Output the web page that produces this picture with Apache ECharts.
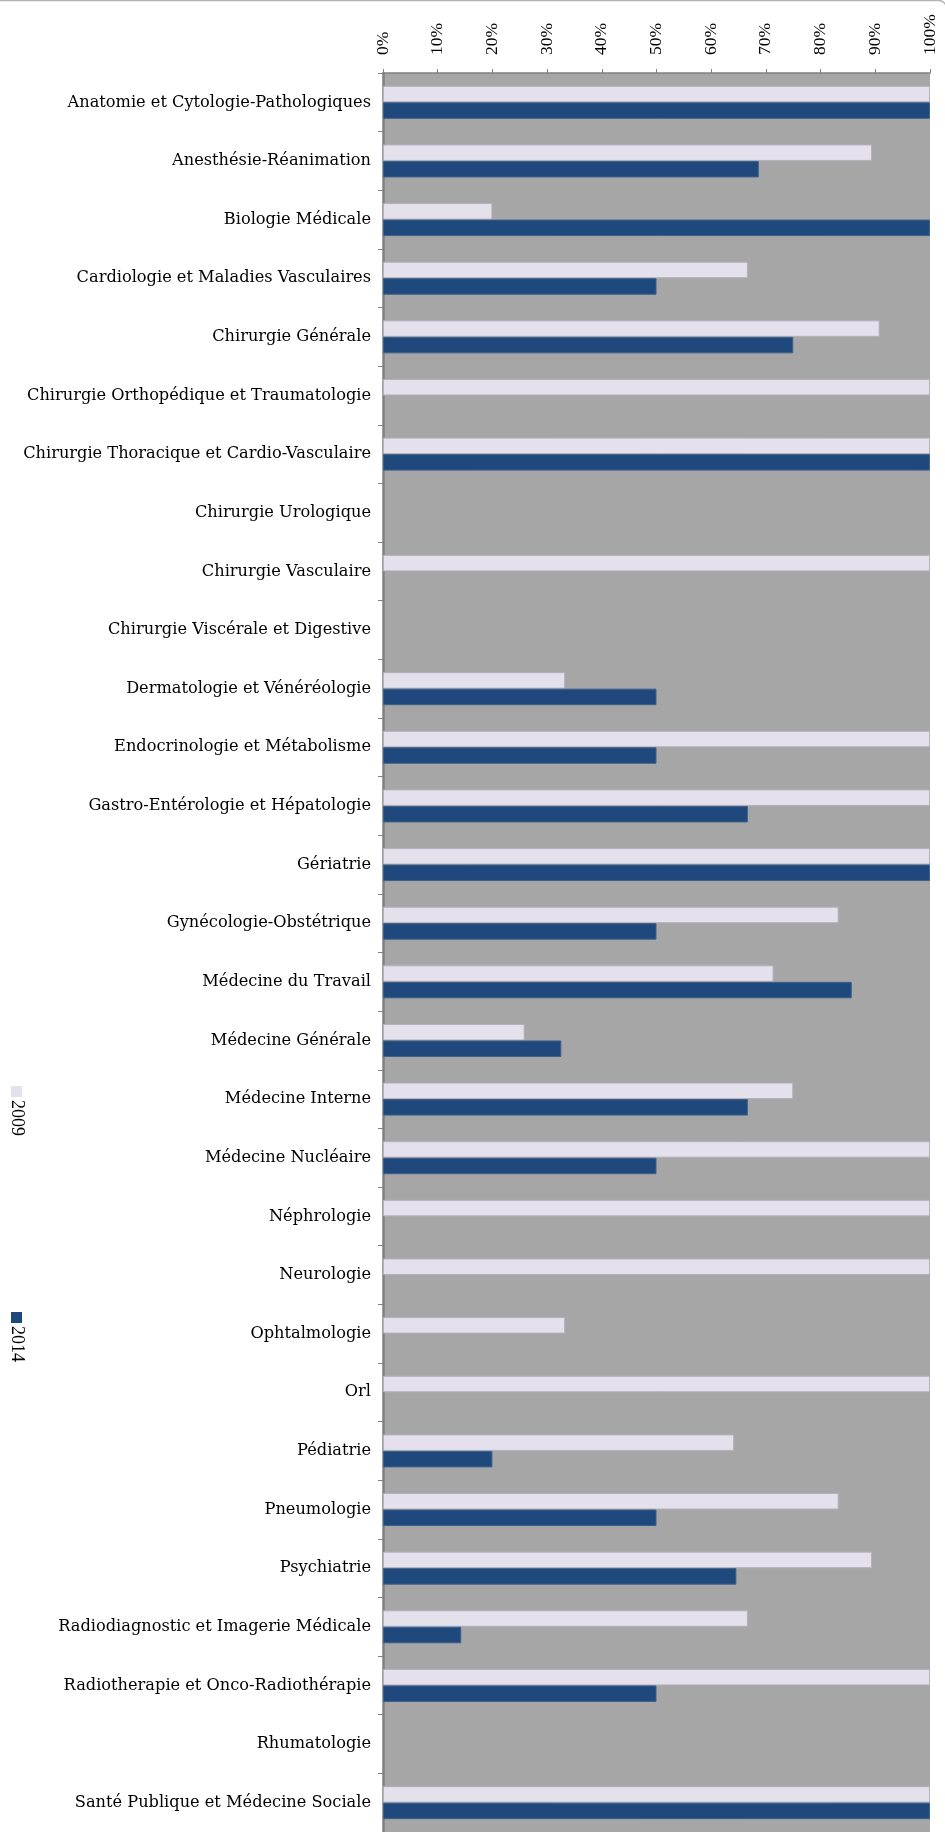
<!DOCTYPE html>
<html>
<head>
<meta charset="utf-8">
<script src="https://cdn.jsdelivr.net/npm/echarts@6/dist/echarts.min.js"></script>
<style>
  html, body { margin: 0; padding: 0; background: #fff; }
  #chart { width: 945px; height: 1832px; }
</style>
</head>
<body>
<div id="chart"></div>
<script>
  // categories, top to bottom
  const specialites = [
    'Anatomie et Cytologie-Pathologiques',
    'Anesthésie-Réanimation',
    'Biologie Médicale',
    'Cardiologie et Maladies Vasculaires',
    'Chirurgie Générale',
    'Chirurgie Orthopédique et Traumatologie',
    'Chirurgie Thoracique et Cardio-Vasculaire',
    'Chirurgie Urologique',
    'Chirurgie Vasculaire',
    'Chirurgie Viscérale et Digestive',
    'Dermatologie et Vénéréologie',
    'Endocrinologie et Métabolisme',
    'Gastro-Entérologie et Hépatologie',
    'Gériatrie',
    'Gynécologie-Obstétrique',
    'Médecine du Travail',
    'Médecine Générale',
    'Médecine Interne',
    'Médecine Nucléaire',
    'Néphrologie',
    'Neurologie',
    'Ophtalmologie',
    'Orl',
    'Pédiatrie',
    'Pneumologie',
    'Psychiatrie',
    'Radiodiagnostic et Imagerie Médicale',
    'Radiotherapie et Onco-Radiothérapie',
    'Rhumatologie',
    'Santé Publique et Médecine Sociale'
  ]
  const val2009 = [100, 89.4, 20, 66.7, 90.8, 100, 100, 0, 100, 0,
                   33.3, 100, 100, 100, 83.3, 71.4, 25.9, 75, 100, 100,
                   100, 33.3, 100, 64.2, 83.3, 89.4, 66.7, 100, 0, 100]
  const val2014 = [100, 68.7, 100, 50, 75, 0, 100, 0, 0, 0,
                   50, 50, 66.7, 100, 50, 85.7, 32.6, 66.7, 50, 0,
                   0, 0, 0, 20, 50, 64.6, 14.3, 50, 0, 100]
  const seriesNames = ['2009', '2014']
  const colors = ['#E4E0EC', '#1F497D']
  const borders = ['#B4B0BC', '#3E6089']

  const labelFont = 'DejaVu Serif'
  const tickFont = 'Liberation Serif'
  let myChart = echarts.init(document.getElementById('chart'))

  // legend drawn by hand, turned a quarter like the source
  let legendItems = []
  const legendY = [1086, 1312]
  seriesNames.forEach((name, i) => {
    legendItems.push({
      type: 'group',
      x: 16.5,
      y: legendY[i],
      rotation: -Math.PI / 2,
      children: [
        { type: 'rect', shape: { x: 0, y: -5.5, width: 11, height: 11 }, style: { fill: colors[i] } },
        { type: 'text', x: 14, y: 0, style: { text: name, fill: '#000', font: '18px "' + tickFont + '"', align: 'left', verticalAlign: 'middle' } }
      ]
    })
  })

  // no border on empty bars
  function barData(vals) {
    return vals.map(v => v === 0 ? { value: v, itemStyle: { borderWidth: 0 } } : v)
  }

  let option = {
    animation: false,
    grid: {
      left: 383, right: 15, top: 73, bottom: 0,
      show: true, backgroundColor: '#A6A6A6', borderWidth: 0
    },
    graphic: [
      {
        type: 'rect', z: -1,
        shape: { x: -20, y: 0.5, width: 966.5, height: 2000, r: 8 },
        style: { fill: 'none', stroke: '#B4B4B4', lineWidth: 1.5 }
      }
    ].concat(legendItems),
    xAxis: {
      type: 'value',
      position: 'top',
      min: 0, max: 100, interval: 10,
      axisLine: { show: true, lineStyle: { color: '#808080', width: 1.5 } },
      axisTick: { show: true, length: 4, lineStyle: { color: '#808080' } },
      splitLine: { show: false },
      axisLabel: {
        formatter: '{value}%', rotate: -90, margin: 18,
        fontFamily: tickFont, fontSize: 17.5, color: '#000'
      }
    },
    yAxis: {
      type: 'category',
      inverse: true,
      data: specialites,
      axisLine: { show: true, lineStyle: { color: '#808080', width: 2.5 } },
      axisTick: { show: true, length: 5, lineStyle: { color: '#808080' } },
      axisLabel: {
        margin: 12, padding: [10, 0, 0, 0],
        fontFamily: labelFont, fontSize: 16.2, color: '#000'
      }
    },
    series: [
      {
        name: seriesNames[0], type: 'bar', data: barData(val2009),
        barWidth: 16.5, barGap: '0%',
        itemStyle: { color: colors[0], borderColor: borders[0], borderWidth: 1 }
      },
      {
        name: seriesNames[1], type: 'bar', data: barData(val2014),
        barWidth: 16.5, barGap: '0%',
        itemStyle: { color: colors[1], borderColor: borders[1], borderWidth: 1 }
      }
    ]
  }
  myChart.setOption(option)
</script>
</body>
</html>
